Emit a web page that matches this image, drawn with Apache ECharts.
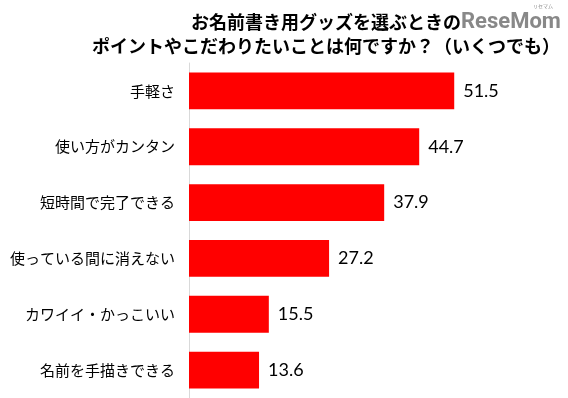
<!DOCTYPE html>
<html><head><meta charset="utf-8">
<script src="https://cdn.jsdelivr.net/npm/echarts@6/dist/echarts.min.js"></script>
<style>html,body{margin:0;padding:0;background:#fff}#c{width:568px;height:398px}</style>
</head><body><div id="c"></div>
<script>
const titleLines = ['お名前書き用グッズを選ぶときの', 'ポイントやこだわりたいことは何ですか？（いくつでも）'];
const categories = ['手軽さ', '使い方がカンタン', '短時間で完了できる', '使っている間に消えない', 'カワイイ・かっこいい', '名前を手描きできる'];
const values = [51.5, 44.7, 37.9, 27.2, 15.5, 13.6];

const chart = echarts.init(document.getElementById('c'));
chart.setOption({
  animation: false,
  backgroundColor: '#fff',
  title: {
    text: titleLines.join('\n'),
    left: 321, top: 5, textAlign: 'center',
    textStyle: { fontFamily: 'Noto Sans CJK JP', fontWeight: 'bold', fontSize: 18, lineHeight: 24, color: '#000' }
  },
  graphic: [
    { type: 'text', left: 461, top: 11, style: { text: 'ReseMom', fontFamily: 'Roboto', fontWeight: 'bold', fontSize: 22, fill: 'rgba(115,115,115,0.85)' } },
    { type: 'text', left: 533, top: 4, style: { text: 'リセマム', fontFamily: 'Noto Sans CJK JP', fontSize: 5, fill: 'rgba(115,115,115,0.85)' } }
  ],
  grid: { left: 189, top: 63, width: 309, height: 336, containLabel: false },
  xAxis: { type: 'value', min: 0, max: 60, show: false },
  yAxis: {
    type: 'category', data: categories, inverse: true,
    axisLine: { show: true, lineStyle: { color: '#d9d9d9', width: 1 } },
    axisTick: { show: false },
    axisLabel: { margin: 14, fontFamily: 'Noto Sans CJK JP', fontSize: 15, color: '#000' }
  },
  series: [{
    type: 'bar', data: values, barCategoryGap: '34%',
    itemStyle: { color: '#ff0000' },
    label: { show: true, position: 'right', distance: 9, fontFamily: 'Lato', fontSize: 18, color: '#000',
      formatter: p => p.value.toFixed(1) }
  }]
});
</script></body></html>
